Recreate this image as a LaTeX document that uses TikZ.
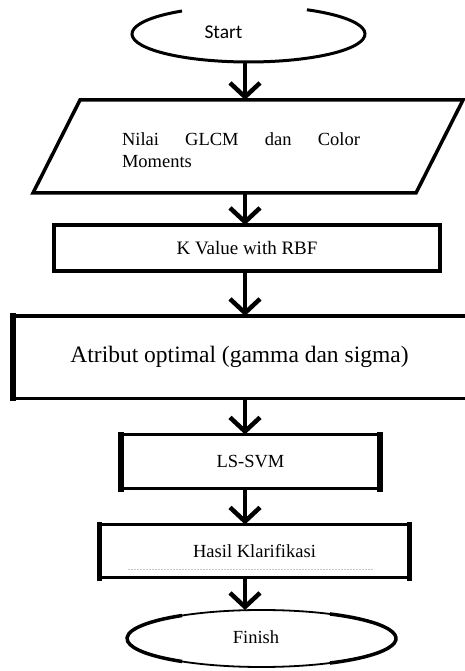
\documentclass[tikz,border=0pt]{standalone}
\usepackage{fontspec}
\setmainfont{Liberation Serif}
\newfontfamily\startfont{Carlito}
\usetikzlibrary{arrows.meta,shapes.geometric}
\begin{document}
\begin{tikzpicture}[x=1pt,y=1pt,
  box/.style={draw, line width=3pt, inner sep=0pt, outer sep=0pt},
  thickside/.style={line width=5.5pt, line cap=rect},
  txt/.style={font=\fontsize{18.5}{22}\selectfont, inner sep=0pt},
  arr/.style={line width=4.5pt, -{Straight Barb[length=14pt,width=30pt,line width=4.5pt]}}]
\useasboundingbox (0,0) rectangle (465,671);
\coordinate (ax) at (245,0);

% Start terminal (ellipse with a gap at its top)
\node[ellipse, minimum width=233, minimum height=56, inner sep=0pt, outer sep=0pt] (start) at (248.5,637) {};
\draw[line width=3pt] ([shift={(124.8:116.5 and 28)}]start.center)
  arc[start angle=124.8, end angle=419.9, x radius=116.5, y radius=28];
\node[font=\startfont\fontsize{19.5}{22}\selectfont, inner sep=0pt] (starttxt) at (223.5,639) {Start};

% Input parallelogram
\node[minimum width=383, minimum height=93, inner sep=0pt, outer sep=0pt] (io) at (248,524.5) {};
\draw[line width=3.5pt, line join=miter]
  ([xshift=-23.5]io.south west) -- ([xshift=-23.5]io.south east)
  -- ([xshift=23.5]io.north east) -- ([xshift=23.5]io.north west) -- cycle;
\node[txt, text width=238, align=justify] (iotxt) at (241,521) {Nilai GLCM dan Color \mbox{Moments}};

% K Value with RBF
\node[box, line width=4pt, minimum width=386, minimum height=46, font=\fontsize{19}{22}\selectfont] (kval) at (247,423) {K Value with RBF};

% Atribut optimal (open on the right)
\node[inner sep=0pt, outer sep=0pt, minimum width=453, minimum height=82.5, font=\fontsize{23.5}{28}\selectfont] (atr) at (239.5,313.75) {\raisebox{4pt}{Atribut optimal (gamma dan sigma)}};
\draw[line width=3.5pt] (atr.north east) -- (atr.north west);
\draw[line width=3.5pt] (atr.south west) -- (atr.south east);
\draw[line width=6pt, line cap=rect] (atr.north west) -- (atr.south west);

% LS-SVM
\node[box, minimum width=259, minimum height=54.5, font=\fontsize{18.5}{22}\selectfont] (ls) at (250.5,209.25) {\raisebox{-3pt}{LS-SVM}};
\draw[thickside] (ls.north west) -- (ls.south west);
\draw[thickside] (ls.north east) -- (ls.south east);

% Hasil Klarifikasi
\node[box, minimum width=310, minimum height=53.5, font=\fontsize{18.5}{22}\selectfont] (hasil) at (254.5,119.75) {Hasil Klarifikasi};
\draw[thickside] (hasil.north west) -- (hasil.south west);
\draw[thickside] (hasil.north east) -- (hasil.south east);
\draw[black!22, line width=0.8pt, dash pattern=on 2pt off 1pt] (128,102) -- (373,102);

% Finish terminal
\node[ellipse, minimum width=269, minimum height=57, inner sep=0pt, outer sep=0pt] (finish) at (261.5,32.5) {};
\draw[line width=1.8pt] (finish.center) ellipse [x radius=134.5, y radius=28.5];
\draw[line width=3.5pt] ([shift={(126.2:134.5 and 28.5)}]finish.center)
  arc[start angle=126.2, end angle=233.8, x radius=134.5, y radius=28.5];
\draw[line width=3.5pt] ([shift={(-59.4:134.5 and 28.5)}]finish.center)
  arc[start angle=-59.4, end angle=59.4, x radius=134.5, y radius=28.5];
\node[font=\fontsize{18.5}{22}\selectfont, inner sep=0pt] (finishtxt) at (256,34) {Finish};

% Connectors
\draw[arr] (start.south -| ax) -- (io.north -| ax);
\draw[arr] (io.south -| ax) -- (kval.north -| ax);
\draw[arr] (kval.south -| ax) -- (atr.north -| ax);
\draw[arr] (atr.south -| ax) -- (ls.north -| ax);
\draw[arr] (ls.south -| ax) -- (hasil.north -| ax);
\draw[arr] (hasil.south -| ax) -- (finish.north -| ax);
\end{tikzpicture}
\end{document}
